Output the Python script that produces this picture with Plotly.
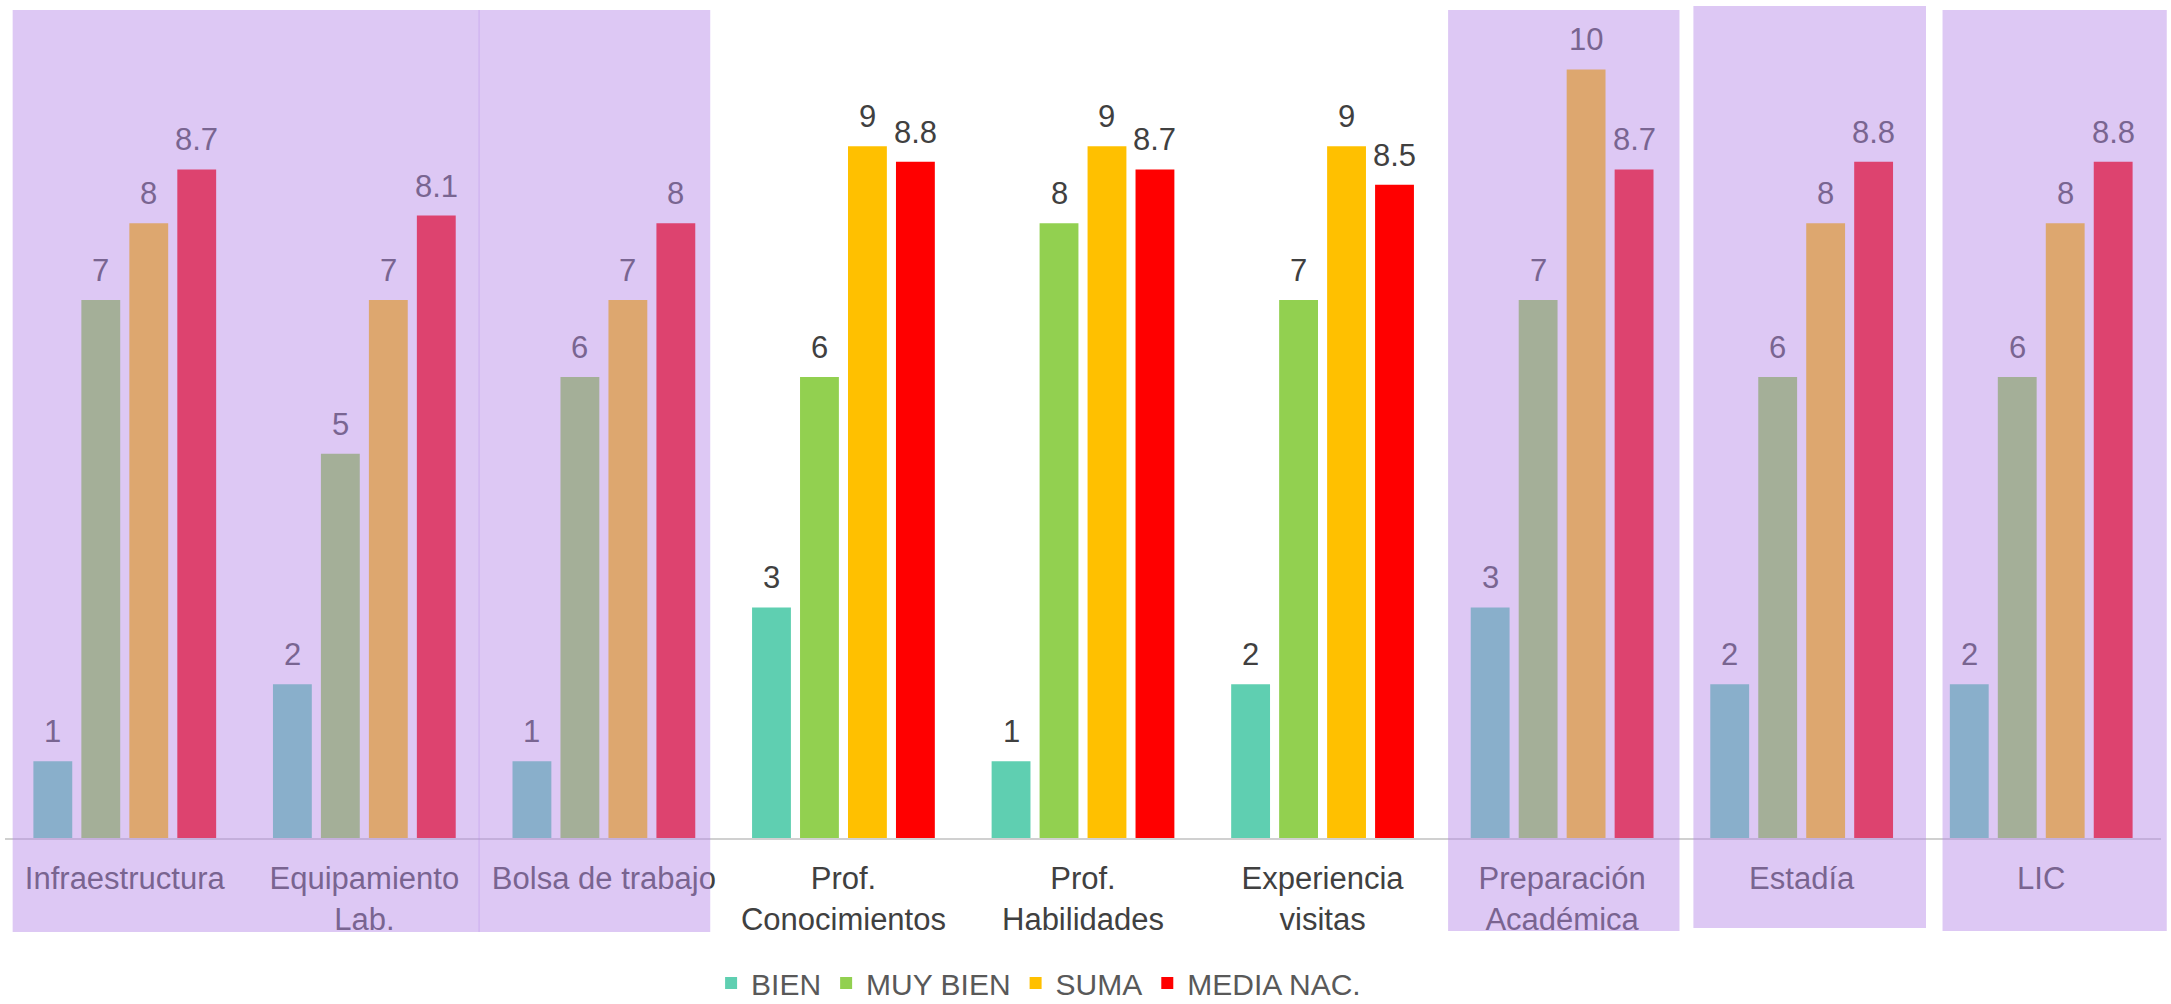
import plotly.graph_objects as go

# ---------------- data ----------------
categories = ["Infraestructura", "Equipamiento<br>Lab.", "Bolsa de trabajo",
              "Prof.<br>Conocimientos", "Prof.<br>Habilidades", "Experiencia<br>visitas",
              "Preparación<br>Académica", "Estadía", "LIC"]
series_names = ["BIEN", "MUY BIEN", "SUMA", "MEDIA NAC."]
bien = [1, 2, 1, 3, 1, 2, 3, 2, 2]
muy_bien = [7, 5, 6, 6, 8, 7, 7, 6, 6]
suma = [8, 7, 7, 9, 9, 9, 10, 8, 8]
media_nac = [8.7, 8.1, 8, 8.8, 8.7, 8.5, 8.7, 8.8, 8.8]

# ---------------- styling / layout constants ----------------
colors = ["#5FCFB1", "#92D050", "#FFC000", "#FF0000"]
FONT = "Liberation Sans, Arial, sans-serif"
W, H = 2171, 1004
ML, MR, MT, MB = 5, 10, 10, 166
X_RANGE = (-0.5, 8.5)
Y_RANGE = (0, 10.774)
BARGAP, BARGROUPGAP = 0.199, 0.19
OVERLAY = (183, 141, 233, 0.48)
LABEL_COLOR = (64, 64, 64)

# shaded highlight bands: (start idx, end idx, top px, bottom px)
shade_bands = [
    (-0.468, 1.481, 10, 932),
    (1.477, 2.444, 10, 932),
    (5.524, 6.490, 10, 931),
    (6.548, 7.519, 6, 928),
    (7.588, 8.524, 10, 931),
]

plot_h = H - MT - MB


def paper_x(idx):
    return (idx - X_RANGE[0]) / (X_RANGE[1] - X_RANGE[0])


def paper_y(px):
    return (H - MB - px) / plot_h


def blend(c):
    r, g, b, a = OVERLAY
    return "rgb(%d,%d,%d)" % tuple(round(a * o + (1 - a) * u) for o, u in zip((r, g, b), c))


series = [bien, muy_bien, suma, media_nac]

fig = go.Figure()
for name, vals, col in zip(series_names, series, colors):
    fig.add_trace(go.Bar(name=name, x=categories, y=vals, marker=dict(color=col, line=dict(width=0)),
                         hoverinfo="skip"))

# data labels
slot = (1 - BARGAP) / len(series)
annotations = []
for j, vals in enumerate(series):
    off = -(1 - BARGAP) / 2 + slot * (j + 0.5)
    for i, v in enumerate(vals):
        xi = i + off
        shaded = any(s <= xi <= e for s, e, _, _ in shade_bands)
        col = blend(LABEL_COLOR) if shaded else "rgb(%d,%d,%d)" % LABEL_COLOR
        annotations.append(dict(x=xi, y=v, xref="x", yref="y", text=f"{v:g}", showarrow=False,
                                yanchor="bottom", yshift=10,
                                font=dict(family=FONT, size=31, color=col)))

shapes = []
for s, e, top, bot in shade_bands:
    shapes.append(dict(type="rect", xref="paper", yref="paper",
                       x0=paper_x(s), x1=paper_x(e), y0=paper_y(bot), y1=paper_y(top),
                       fillcolor="rgba(%d,%d,%d,%s)" % OVERLAY, line=dict(width=0), layer="above"))

fig.update_layout(
    width=W, height=H, autosize=False,
    margin=dict(l=ML, r=MR, t=MT, b=MB, pad=0, autoexpand=False),
    paper_bgcolor="white", plot_bgcolor="white",
    barmode="group", bargap=BARGAP, bargroupgap=BARGROUPGAP,
    font=dict(family=FONT, size=31, color="#404040"),
    xaxis=dict(type="category", range=list(X_RANGE), showgrid=False, zeroline=False,
               showline=True, linecolor="#D0D0D0", linewidth=2, ticks="",
               ticklabelstandoff=12, automargin=False,
               tickfont=dict(family=FONT, size=31, color="#404040")),
    yaxis=dict(range=list(Y_RANGE), showgrid=False, zeroline=False, showline=False,
               showticklabels=False, ticks="", automargin=False),
    legend=dict(orientation="h", x=0.4794, xanchor="center", y=paper_y(983), yanchor="middle",
                font=dict(family=FONT, size=30, color="#595959"), bgcolor="rgba(0,0,0,0)",
                traceorder="normal", tracegroupgap=0),
    shapes=shapes,
    annotations=annotations,
    showlegend=True,
)

fig.write_html("out.html", config={"displayModeBar": False},
               post_script="document.body.style.margin='0';document.body.style.overflow='hidden';")
